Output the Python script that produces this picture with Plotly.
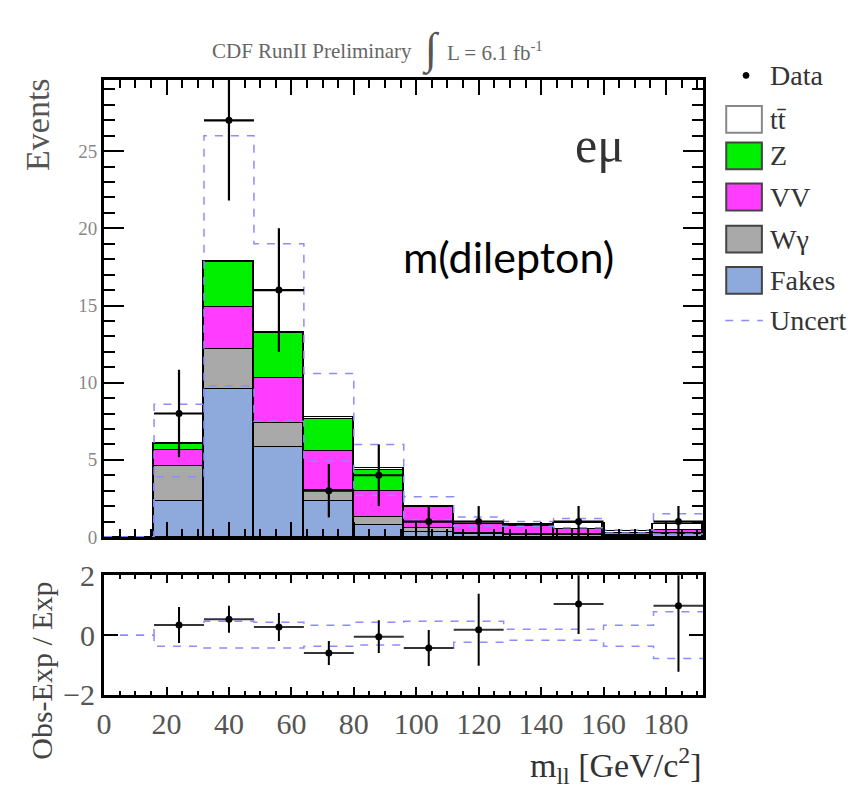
import plotly.graph_objects as go

# ---------------- data ----------------
bin_edges = [0, 16, 32, 48, 64, 80, 96, 112, 128, 144, 160, 176, 192]
bin_centers = [8, 24, 40, 56, 72, 88, 104, 120, 136, 152, 168, 184]

fakes  = [0, 2.3, 9.6, 5.8, 2.3, 0.75, 0.3, 0.15, 0.1, 0.1, 0.05, 0.15]
wgamma = [0, 2.3, 2.6, 1.6, 0.75, 0.5, 0.3, 0.1, 0.05, 0.05, 0.05, 0.1]
vv     = [0, 1.0, 2.7, 2.9, 2.5, 1.7, 1.3, 0.55, 0.55, 0.35, 0.15, 0.2]
zjets  = [0, 0.4, 2.9, 2.9, 2.1, 1.4, 0.05, 0.05, 0.05, 0.0, 0.0, 0.0]
ttbar  = [0, 0.1, 0.1, 0.1, 0.1, 0.1, 0.05, 0.1, 0.1, 0.4, 0.1, 0.4]

unc_up   = [0, 8.6, 26.0, 19.0, 10.6, 6.0, 2.6, 1.3, 1.0, 1.2, 0.45, 1.5]
unc_down = [0, 3.9, 9.8, 7.5, 4.9, 2.7, 1.1, 0.7, 0.7, 0.6, 0.25, 0.2]

data_x   = [24, 40, 56, 72, 88, 104, 120, 152, 184]
data_y   = [8, 27, 16, 3, 4, 1, 1, 1, 1]
data_err = [2.83, 5.2, 4.0, 1.73, 2.0, 1.0, 1.0, 1.0, 1.0]

ratio_y   = [0.34, 0.53, 0.27, -0.6, -0.05, -0.43, 0.18, 1.04, 0.98]
ratio_err = [0.6, 0.45, 0.47, 0.4, 0.55, 0.6, 1.2, 1.0, 2.2]
ratio_unc_up   = [0, 0.33, 0.46, 0.43, 0.33, 0.43, 0.46, 0.46, 0.2, 0.2, 0.33, 0.78]
ratio_unc_down = [0, -0.37, -0.43, -0.43, -0.37, -0.33, -0.43, -0.24, -0.17, -0.17, -0.37, -0.78]

x_ticks = [0, 20, 40, 60, 80, 100, 120, 140, 160, 180]
y_ticks_main = [0, 5, 10, 15, 20, 25]
y_ticks_ratio = [-2, 0, 2]

legend_labels = ["Data", "tt\u0304", "Z", "VV", "W\u03b3", "Fakes", "Uncert"]

# ---------------- style ----------------
W, H = 856, 802
SERIF = "Liberation Serif, Times New Roman, serif"
C_FAKES, C_WG, C_VV, C_Z, C_TT = "#8eaadc", "#a9a9a9", "#ff3cff", "#00f000", "#ffffff"
C_UNC = "rgb(140,140,255)"


def px(x):
    return x / W


def py(y):
    return 1 - y / H


fig = go.Figure()

stack = [(fakes, C_FAKES), (wgamma, C_WG), (vv, C_VV), (zjets, C_Z), (ttbar, C_TT)]
for vals, col in stack:
    fig.add_trace(go.Bar(
        x=bin_centers, y=vals, width=16,
        marker=dict(color=col, line=dict(color="black", width=1.6)),
        xaxis="x", yaxis="y", showlegend=False, hoverinfo="skip"))

for band in (unc_up, unc_down):
    fig.add_trace(go.Scatter(
        x=bin_edges, y=band + [band[-1]], mode="lines", line_shape="hv",
        line=dict(color=C_UNC, width=1.5, dash="8px,8px"),
        xaxis="x", yaxis="y", showlegend=False, hoverinfo="skip"))

fig.add_trace(go.Scatter(
    x=data_x, y=data_y, mode="markers",
    marker=dict(color="black", size=7),
    error_y=dict(type="data", array=data_err, thickness=2.2, width=0, color="black"),
    error_x=dict(type="constant", value=8, thickness=2.2, width=0, color="black"),
    xaxis="x", yaxis="y", showlegend=False))

# ratio panel
for band in (ratio_unc_up, ratio_unc_down):
    fig.add_trace(go.Scatter(
        x=bin_edges, y=band + [band[-1]], mode="lines", line_shape="hv",
        line=dict(color=C_UNC, width=1.5, dash="8px,8px"),
        xaxis="x2", yaxis="y2", showlegend=False, hoverinfo="skip"))

fig.add_trace(go.Scatter(
    x=data_x, y=ratio_y, mode="markers",
    marker=dict(color="black", size=7),
    error_y=dict(type="data", array=ratio_err, thickness=2, width=0, color="black"),
    error_x=dict(type="constant", value=8, thickness=2, width=0, color="#333"),
    xaxis="x2", yaxis="y2", showlegend=False))

axis_common = dict(showline=True, linewidth=3, linecolor="black", mirror="allticks",
                   ticks="inside", tickcolor="black", showgrid=False, zeroline=False)

fig.update_layout(
    width=W, height=H, autosize=False,
    margin=dict(l=0, r=0, t=0, b=0),
    paper_bgcolor="white", plot_bgcolor="white",
    barmode="stack", bargap=0,
    xaxis=dict(domain=[px(97), px(702)], range=[0, 192], anchor="y",
               tickvals=x_ticks, ticklen=15, tickwidth=2, showticklabels=False,
               minor=dict(dtick=5, ticklen=8, tickwidth=1.5, tickcolor="black", ticks="inside"),
               **axis_common),
    yaxis=dict(domain=[py(543), py(66)], range=[0, 29.6], anchor="x",
               tickvals=y_ticks_main, ticklen=20, tickwidth=2,
               tickfont=dict(family=SERIF, size=19, color="#888"),
               minor=dict(dtick=1, ticklen=11, tickwidth=1.5, tickcolor="black", ticks="inside"),
               **axis_common),
    xaxis2=dict(domain=[px(97), px(702)], range=[0, 192], anchor="y2",
                tickvals=x_ticks, ticklen=8, tickwidth=2,
                tickfont=dict(family=SERIF, size=30, color="#555"),
                minor=dict(dtick=5, ticklen=4, tickwidth=1.5, tickcolor="black", ticks="inside"),
                **axis_common),
    yaxis2=dict(domain=[py(708), py(583)], range=[-2, 2], anchor="x2",
                tickvals=y_ticks_ratio, ticklen=14, tickwidth=2,
                tickfont=dict(family=SERIF, size=30, color="#555"),
                **axis_common),
)

ann = []
# title
ann.append(dict(x=px(410), y=py(36), xref="paper", yref="paper", xanchor="right", yanchor="middle",
                text="CDF RunII Preliminary", showarrow=False,
                font=dict(family=SERIF, size=21, color="#666")))
ann.append(dict(x=px(427), y=py(34), xref="paper", yref="paper", xanchor="center", yanchor="middle",
                text="\u222b", showarrow=False, font=dict(family=SERIF, size=44, color="#555")))
ann.append(dict(x=px(441), y=py(36), xref="paper", yref="paper", xanchor="left", yanchor="middle",
                text="L = 6.1 fb<sup>-1</sup>", showarrow=False,
                font=dict(family=SERIF, size=21, color="#666")))
# axis titles
ann.append(dict(x=px(30), y=py(112), xref="paper", yref="paper", xanchor="center", yanchor="middle",
                text="Events", textangle=-90, showarrow=False,
                font=dict(family=SERIF, size=34, color="#555")))
ann.append(dict(x=px(33), y=py(683), xref="paper", yref="paper", xanchor="center", yanchor="middle",
                text="Obs-Exp / Exp", textangle=-90, showarrow=False,
                font=dict(family=SERIF, size=30, color="#444")))
ann.append(dict(x=px(702), y=py(782), xref="paper", yref="paper", xanchor="right", yanchor="middle",
                text="m<sub>ll</sub> [GeV/c<sup>2</sup>]", showarrow=False,
                font=dict(family=SERIF, size=34, color="#333")))
# in-plot labels
ann.append(dict(x=px(597), y=py(134), xref="paper", yref="paper", xanchor="center", yanchor="middle",
                text="e\u03bc", showarrow=False, font=dict(family=SERIF, size=50, color="#333")))
ann.append(dict(x=px(505), y=py(250), xref="paper", yref="paper", xanchor="center", yanchor="middle",
                text="m(dilepton)", showarrow=False, font=dict(family="Lato", size=43, color="black")))

# legend (drawn manually)
shapes = []
leg_y = [61, 107, 145, 188, 232, 275, 317]
box_colors = [None, C_TT, C_Z, C_VV, C_WG, C_FAKES, None]
for i, lab in enumerate(legend_labels):
    yc = leg_y[i]
    ann.append(dict(x=px(767), y=py(yc), xref="paper", yref="paper", xanchor="left", yanchor="middle",
                    text=lab, showarrow=False, font=dict(family=SERIF, size=28, color="#333")))
    if box_colors[i] is not None:
        lc = "#888" if i == 1 else "#444"
        shapes.append(dict(type="rect", xref="paper", yref="paper",
                           x0=px(725), x1=px(761), y0=py(yc + 14), y1=py(yc - 14),
                           fillcolor=box_colors[i], line=dict(color=lc, width=2)))
shapes.append(dict(type="circle", xref="paper", yref="paper",
                   x0=px(742), x1=px(748), y0=py(leg_y[0] + 3), y1=py(leg_y[0] - 3),
                   fillcolor="black", line=dict(color="black", width=1)))
shapes.append(dict(type="line", xref="paper", yref="paper",
                   x0=px(724), x1=px(762), y0=py(leg_y[6]), y1=py(leg_y[6]),
                   line=dict(color=C_UNC, width=1.5, dash="8px,8px")))

fig.update_layout(annotations=ann, shapes=shapes)
fig.write_html("out.html",
               post_script="document.body.style.margin='0';document.body.style.padding='0';")
